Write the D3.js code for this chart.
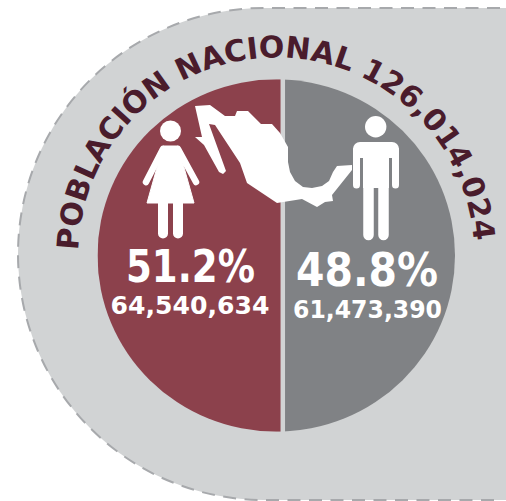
<!DOCTYPE html>
<html>
<head>
<meta charset="utf-8">
<script src="https://cdn.jsdelivr.net/npm/d3@7"></script>
<style>
  html, body { margin: 0; padding: 0; background: #fff; }
  svg { display: block; }
  text { font-family: "DejaVu Sans", sans-serif; font-weight: 700; }
</style>
</head>
<body>
<svg id="chart" width="506" height="501"></svg>
<script>
var titleLabel = "POBLACIÓN NACIONAL";
var totalPopulation = 126014024;
var categories = ["Mujeres", "Hombres"];
var shares = [51.2, 48.8];
var counts = [64540634, 61473390];

var width = 506, height = 501;
var cx = 276.25, cy = 255.5, rx = 178.75, ry = 176.25;
var colors = ["#8c414c", "#808285"];

var svg = d3.select("#chart");
var fmtComma = d3.format(",");
var fmtPct = d3.format(".1f");

// dashed backdrop, open on the right edge
var bgRadius = 246, bgX = 264, bgY = 254;
var bg = d3.path();
bg.moveTo(width - 6, bgY - bgRadius);
bg.lineTo(bgX, bgY - bgRadius);
bg.arc(bgX, bgY, bgRadius, -Math.PI / 2, Math.PI / 2, true);
bg.lineTo(width - 6, bgY + bgRadius);
svg.append("rect")
  .attr("x", bgX).attr("y", bgY - bgRadius)
  .attr("width", width - bgX).attr("height", 2 * bgRadius)
  .attr("fill", "#d1d3d4");
svg.append("path")
  .attr("d", bg.toString())
  .attr("fill", "#d1d3d4")
  .attr("stroke", "#a7a9ac")
  .attr("stroke-width", 2)
  .attr("stroke-dasharray", "13 8.5");

// the circle is cut by a vertical chord at the share along its diameter
var x = d3.scaleLinear().domain([0, 100]).range([cx - rx, cx + rx]);
var defs = svg.append("defs");
var gap = 4.5;
var slices = [
  { x0: x(0), x1: x(shares[0]) },
  { x0: x(shares[0]) + gap, x1: x(100) }
];
slices.forEach(function(s, i) {
  defs.append("clipPath").attr("id", "slice" + i)
    .append("rect")
    .attr("x", s.x0).attr("y", cy - ry)
    .attr("width", s.x1 - s.x0).attr("height", 2 * ry);
});
svg.selectAll(".slice")
  .data(categories)
  .enter()
  .append("ellipse")
  .attr("class", "slice")
  .attr("cx", cx).attr("cy", cy).attr("rx", rx).attr("ry", ry)
  .attr("fill", function(d, i) { return colors[i]; })
  .attr("clip-path", function(d, i) { return "url(#slice" + i + ")"; });

// curved title, the path runs a little below the centre so the ends can wrap
var titleArc = d3.path();
titleArc.arc(cx, cy, 198, Math.PI * 0.9, Math.PI * 2.1);
defs.append("path").attr("id", "titleArc").attr("d", titleArc.toString());
svg.append("text")
  .attr("fill", "#4a1c2c")
  .attr("font-size", 30)
  .append("textPath")
  .attr("href", "#titleArc")
  .attr("startOffset", "49.4%")
  .attr("text-anchor", "middle")
  .text(titleLabel + " " + fmtComma(totalPopulation));

// silhouette of Mexico
var mexico = [[195,106],[210,105],[225,116],[235,116],[237,111],[248,111],[261,124],[272,124],[280,133],[288,147],[288,162],[290,172],[295,181],[303,187],[312,188],[322,186],[329,181],[333,172],[337,166],[352,165],[352,170],[332,195],[333,201],[325,202],[317,207],[302,199],[277,203],[247,183],[240,163],[215,125],[209,124],[226,171],[223,174],[219,172],[204,145],[195,137],[202,137]];
svg.append("path")
  .attr("d", d3.line().curve(d3.curveLinearClosed)(mexico))
  .attr("fill", "#fff");

// woman
var woman = svg.append("g").attr("fill", "#fff");
woman.append("circle").attr("cx", 170.5).attr("cy", 131).attr("r", 10.5);
woman.append("path").attr("d", d3.line().curve(d3.curveLinearClosed)([[163,146],[178,146],[194,203],[147,203]])).attr("stroke", "#fff").attr("stroke-width", 1);
woman.append("path").attr("d", "M164,149H177").attr("stroke", "#fff").attr("stroke-width", 6).attr("stroke-linecap", "round");
woman.append("path").attr("d", "M163,149L146,182M178,149L196,182")
  .attr("fill", "none").attr("stroke", "#fff").attr("stroke-linecap", "round").attr("stroke-width", 6.5);
woman.append("path").attr("d", "M163,200V233.5M178,200V233.5")
  .attr("fill", "none").attr("stroke", "#fff").attr("stroke-width", 10).attr("stroke-linecap", "round");

// man
var man = svg.append("g").attr("fill", "#fff");
man.append("circle").attr("cx", 375.7).attr("cy", 126.7).attr("r", 10.7);
man.append("rect").attr("x", 353).attr("y", 142).attr("width", 46).attr("height", 16).attr("rx", 7);
man.append("rect").attr("x", 363).attr("y", 150).attr("width", 26).attr("height", 38);
man.append("path").attr("d", "M356.5,150V185M395.5,150V185")
  .attr("fill", "none").attr("stroke", "#fff").attr("stroke-width", 7).attr("stroke-linecap", "round");
man.append("path").attr("d", "M368.5,180V235M383.5,180V235")
  .attr("fill", "none").attr("stroke", "#fff").attr("stroke-width", 10.5).attr("stroke-linecap", "round");

// labels
var pctBase = [282, 286], pctMid = [190.5, 367], pctSize = [44, 47], pctLen = [129, 142];
var numBase = [314, 318], numMid = [190, 367.5], numSize = [24, 24], numLen = [159, 149];
svg.selectAll(".pct")
  .data(shares)
  .enter()
  .append("text")
  .attr("class", "pct")
  .attr("x", function(d, i) { return pctMid[i]; })
  .attr("y", function(d, i) { return pctBase[i]; })
  .attr("text-anchor", "middle")
  .attr("font-size", function(d, i) { return pctSize[i]; })
  .attr("textLength", function(d, i) { return pctLen[i]; })
  .attr("lengthAdjust", "spacingAndGlyphs")
  .attr("fill", "#fff")
  .text(function(d) { return fmtPct(d) + "%"; });
svg.selectAll(".num")
  .data(counts)
  .enter()
  .append("text")
  .attr("class", "num")
  .attr("x", function(d, i) { return numMid[i]; })
  .attr("y", function(d, i) { return numBase[i]; })
  .attr("text-anchor", "middle")
  .attr("font-size", function(d, i) { return numSize[i]; })
  .attr("textLength", function(d, i) { return numLen[i]; })
  .attr("lengthAdjust", "spacingAndGlyphs")
  .attr("fill", "#fff")
  .text(function(d) { return fmtComma(d); });
</script>
</body>
</html>
